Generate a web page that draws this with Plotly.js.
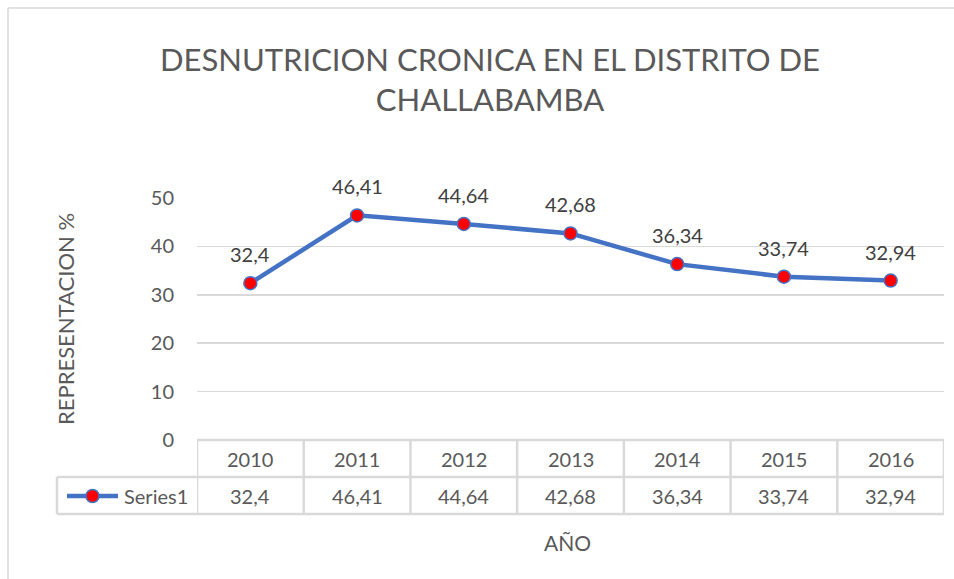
<!DOCTYPE html>
<html>
<head>
<meta charset="utf-8">
<script src="https://cdn.plot.ly/plotly-3.0.1.min.js"></script>
<style>html,body{margin:0;padding:0;background:#fff;}#chart{width:954px;height:579px;}</style>
</head>
<body>
<div id="chart"></div>
<script>
const years = ["2010", "2011", "2012", "2013", "2014", "2015", "2016"];
const values = [32.4, 46.41, 44.64, 42.68, 36.34, 33.74, 32.94];
const valueLabels = ["32,4", "46,41", "44,64", "42,68", "36,34", "33,74", "32,94"];
const seriesName = "Series1";
const titleText = "DESNUTRICION CRONICA EN EL DISTRITO DE<br>CHALLABAMBA";
const yTitle = "REPRESENTACION %";
const xTitle = "AÑO";

const W = 954, H = 579;
const L = 197, R = 944, T = 198, B = 440;
const plotW = R - L, plotH = B - T;
const fy = py => (B - py) / plotH;       // pixel y -> paper y
const fx = px => (px - L) / plotW;       // pixel x -> paper x

const font = "Lato, 'Open Sans', sans-serif";
const txt = "#595959";
const grid = "#d9d9d9";

const row1Top = fy(440), row1Bot = fy(477), row2Bot = fy(514);
const n = years.length;
const shapes = [];
const annotations = [];
const lw = 2.5;
shapes.push({type:"line", xref:"x", yref:"paper", x0:-0.5, x1:n-0.5, y0:row1Top, y1:row1Top, line:{color:grid, width:lw}});
shapes.push({type:"line", xref:"paper", yref:"paper", x0:fx(57), x1:1, y0:row1Bot, y1:row1Bot, line:{color:grid, width:lw}});
shapes.push({type:"line", xref:"paper", yref:"paper", x0:fx(57), x1:1, y0:row2Bot, y1:row2Bot, line:{color:grid, width:lw}});
for (let i = 0; i <= n; i++) {
  shapes.push({type:"line", xref:"x", yref:"paper", x0:i-0.5, x1:i-0.5, y0:row1Top, y1:row2Bot, line:{color:grid, width:lw}});
}
shapes.push({type:"line", xref:"paper", yref:"paper", x0:fx(57), x1:fx(57), y0:row1Bot, y1:row2Bot, line:{color:grid, width:lw}});
shapes.push({type:"line", xref:"paper", yref:"paper", x0:fx(67), x1:fx(118), y0:fy(496), y1:fy(496), line:{color:"#4472c4", width:4.5}});
shapes.push({type:"circle", xref:"paper", yref:"paper", x0:fx(86), x1:fx(99), y0:fy(502.5), y1:fy(489.5), fillcolor:"#ff0000", line:{color:"#4472c4", width:1.5}});
shapes.push({type:"line", xref:"paper", yref:"paper", x0:fx(8), x1:fx(8), y0:fy(8), y1:fy(600), line:{color:grid, width:1.5}});
shapes.push({type:"line", xref:"paper", yref:"paper", x0:fx(8), x1:fx(970), y0:fy(8), y1:fy(8), line:{color:grid, width:1.5}});

years.forEach((yr, i) => {
  annotations.push({xref:"x", yref:"paper", x:i, y:(row1Top+row1Bot)/2, text:yr, showarrow:false, font:{family:font, size:20, color:txt}, yanchor:"middle"});
  annotations.push({xref:"x", yref:"paper", x:i, y:(row1Bot+row2Bot)/2, text:valueLabels[i], showarrow:false, font:{family:font, size:20, color:txt}, yanchor:"middle"});
  annotations.push({xref:"x", yref:"y", x:i, y:values[i], text:valueLabels[i], showarrow:false, yshift:29, font:{family:font, size:20, color:"#404040"}});
});
annotations.push({xref:"paper", yref:"paper", x:fx(122), y:(row1Bot+row2Bot)/2, text:seriesName, showarrow:false, xanchor:"left", yanchor:"middle", font:{family:font, size:20, color:txt}});
annotations.push({xref:"paper", yref:"paper", x:fx(567), y:fy(542), text:xTitle, showarrow:false, xanchor:"center", yanchor:"middle", font:{family:font, size:21, color:txt}});

const trace = {
  x: years, y: values, type:"scatter", mode:"lines+markers", name:seriesName,
  line:{color:"#4472c4", width:4.5},
  marker:{color:"#ff0000", size:13, line:{color:"#4472c4", width:1.5}},
  cliponaxis:false, hoverinfo:"none"
};

const layout = {
  width:W, height:H,
  margin:{l:L, r:W-R, t:T, b:H-B, pad:0},
  paper_bgcolor:"#fff", plot_bgcolor:"#fff",
  showlegend:false,
  title:{text:titleText, xref:"container", x:490/W, xanchor:"center", yref:"container", y:1-71/H, yanchor:"middle", font:{family:font, size:31, color:txt}},
  xaxis:{type:"category", range:[-0.5, n-0.5], showticklabels:false, showgrid:false, zeroline:false, showline:false, ticks:""},
  yaxis:{range:[0,50], dtick:10, showgrid:true, gridcolor:grid, gridwidth:1.5, zeroline:false, showline:false,
         ticks:"", ticklabelstandoff:22, tickfont:{family:font, size:20, color:txt},
         title:{text:yTitle, standoff:70, font:{family:font, size:22, color:txt}}},
  shapes:shapes, annotations:annotations
};
Plotly.newPlot("chart", [trace], layout, {staticPlot:true, displayModeBar:false});
</script>
</body>
</html>
